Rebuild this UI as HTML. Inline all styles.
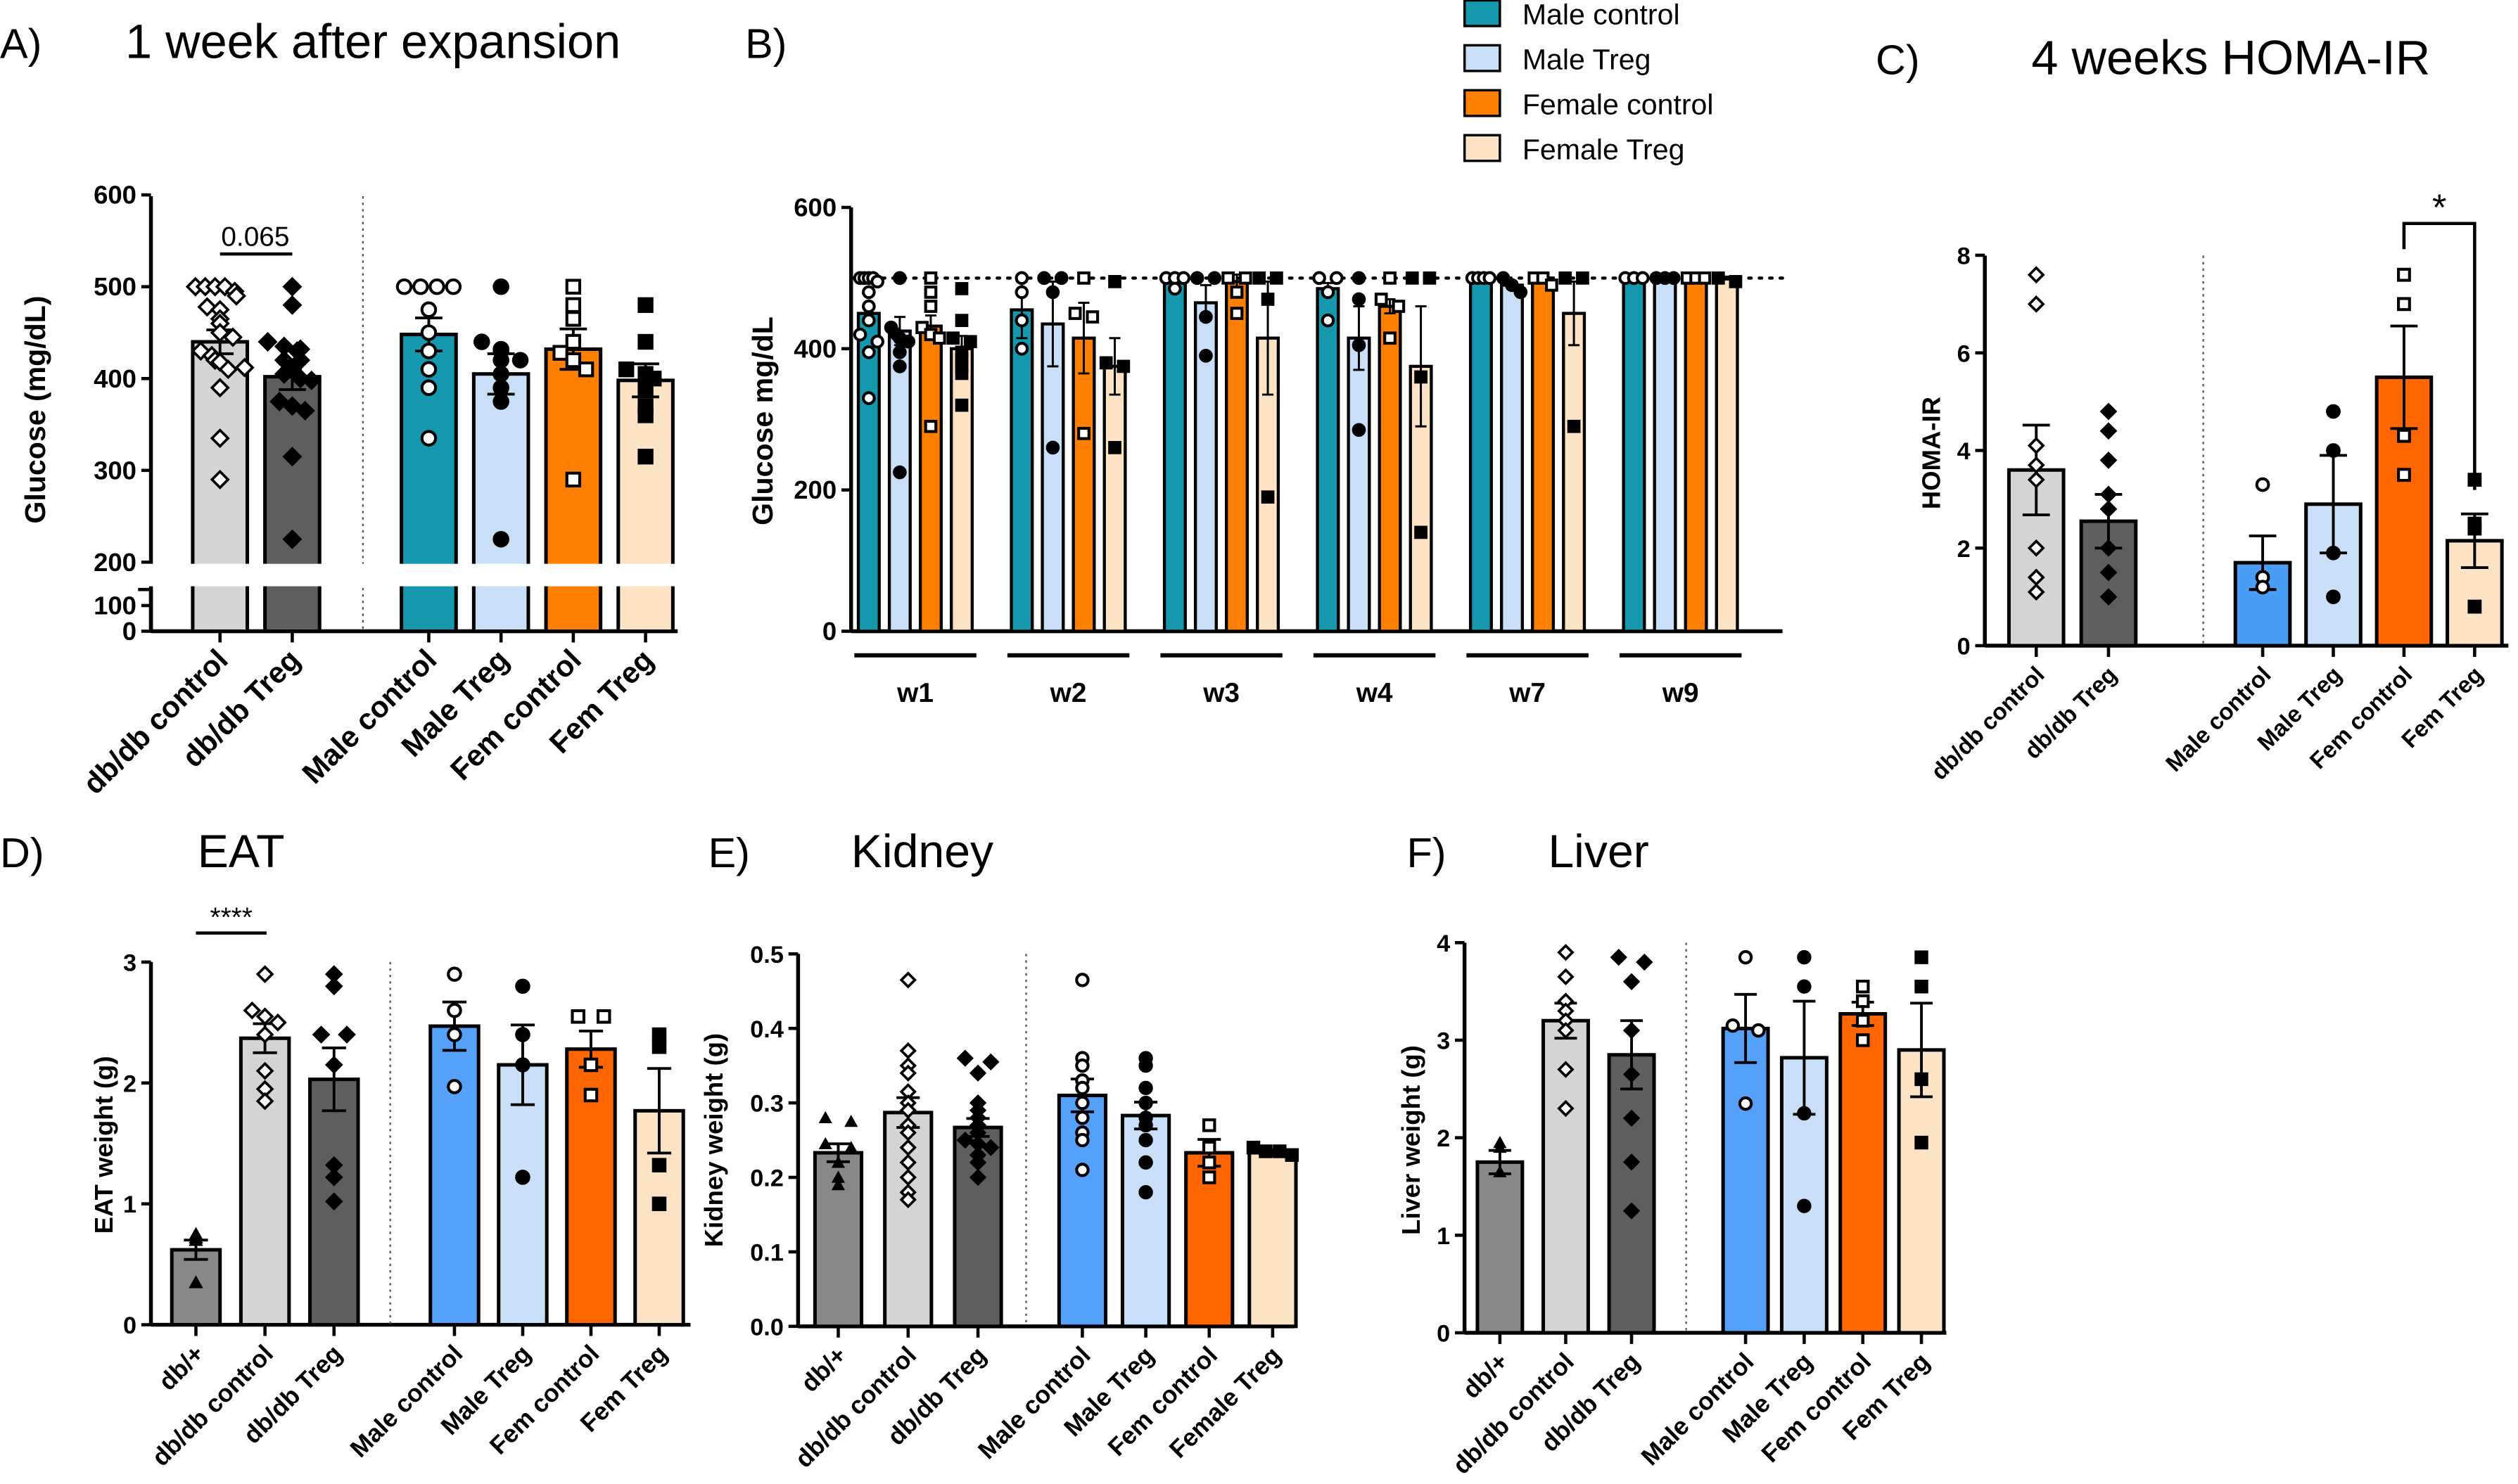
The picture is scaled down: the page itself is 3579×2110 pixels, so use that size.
<!DOCTYPE html>
<html><head><meta charset="utf-8"><style>
html,body{margin:0;padding:0;background:#fff}
svg{display:block}
text{font-family:"Liberation Sans",Arial,sans-serif}
</style></head><body>
<svg id="fig" xmlns="http://www.w3.org/2000/svg" width="3579" height="2110" viewBox="0 0 1568 924">
<rect width="1568" height="924" fill="#fff"/>
<g font-size="26" fill="#000">
<text x="0" y="36">A)</text>
<text x="78" y="36" font-size="30">1 week after expansion</text>
<text x="464" y="36">B)</text>
<text x="1168" y="46">C)</text>
<text x="1265" y="46" font-size="30">4 weeks HOMA-IR</text>
<text x="0" y="540">D)</text>
<text x="123" y="540" font-size="29">EAT</text>
<text x="441" y="540">E)</text>
<text x="530" y="540" font-size="29">Kidney</text>
<text x="876" y="540">F)</text>
<text x="964" y="540" font-size="29">Liver</text>
</g>
</svg>
<script>
// ---------- Panel A data ----------
const aCats=["db/db control","db/db Treg","Male control","Male  Treg","Fem  control","Fem  Treg"];
const aVals=[440,402,448,405,432,398];
const aErrs=[13,14,18,22,22,18];
const aPts=[[500,500,500,500,495,490,478,475,465,460,450,445,430,425,420,418,410,412,390,335,290],
[500,480,440,435,432,430,420,420,410,405,400,398,375,370,365,315,225],
[500,500,500,500,475,450,430,410,390,335],[500,440,432,430,420,420,405,390,375,225],
[500,480,465,440,428,420,410,290],[480,440,410,405,400,390,370,360,315]];
// ---------- Panel B data ----------
const bWeeks=["w1","w2","w3","w4","w7","w9"];
const bSeries=["Male control","Male Treg","Female control","Female Treg"];
const bVals=[[450,425,432,400],[455,435,415,375],[500,465,495,415],[485,415,460,375],[500,490,500,450],[500,500,500,500]];
const bErrs=[[12,20,15,18],[40,60,50,40],[0,25,10,80],[8,45,10,85],[0,5,0,45],[0,0,0,2]];
const bPts=[[[500,500,500,500,495,480,460,440,420,410,395,330],[500,430,420,415,410,395,375,225],[500,480,460,430,420,415,290],[485,440,415,410,395,385,375,365,320]],
[[500,480,440,400],[500,500,480,260],[500,450,445,280],[495,380,375,260]],
[[500,500,500,485],[500,500,445,390],[500,500,480,450],[500,500,470,190]],
[[500,500,480,440],[500,470,405,285],[500,470,460,415],[500,500,360,140]],
[[500,500,500,500],[500,490,480],[500,500,490],[500,500,290]],
[[500,500,500],[500,500,500],[500,500,500],[500,495]]];
// ---------- Panel C data ----------
const cCats=["db/db control","db/db Treg","Male control","Male Treg","Fem control","Fem Treg"];
const cVals=[3.6,2.55,1.7,2.9,5.5,2.15];
const cErrs=[0.92,0.55,0.55,1.0,1.05,0.55];
const cPts=[[7.6,7.0,4.1,3.7,3.4,2.0,1.4,1.1],[4.8,4.4,3.8,3.1,2.8,2.0,1.5,1.0],[3.3,1.4,1.2],[4.8,4.0,1.9,1.0],[7.6,7.0,4.3,3.5],[3.4,2.5,2.4,0.8]];
const cTicks=[0,2,4,6,8];
// ---------- Panel D data ----------
const dCats=["db/+","db/db control","db/db Treg","Male control","Male Treg","Fem control","Fem  Treg"];
const dVals=[0.62,2.37,2.03,2.47,2.15,2.28,1.77];
const dErrs=[0.08,0.12,0.26,0.2,0.33,0.15,0.35];
const dPts=[[0.75,0.72,0.7,0.35],[2.9,2.6,2.55,2.5,2.4,2.1,1.95,1.85],[2.9,2.8,2.4,2.4,2.15,1.32,1.22,1.02],[2.9,2.6,2.4,1.97],[2.8,2.4,2.15,1.22],[2.55,2.55,2.15,1.9],[2.4,2.3,1.32,1.0]];
const dTicks=[0,1,2,3];
// ---------- Panel E data ----------
const eCats=["db/+","db/db control","db/db Treg","Male control","Male Treg","Fem control","Female Treg"];
const eVals=[0.233,0.287,0.267,0.31,0.283,0.233,0.233];
const eErrs=[0.012,0.02,0.012,0.022,0.018,0.018,0.004];
const ePts=[[0.28,0.275,0.245,0.24,0.22,0.2,0.19],[0.465,0.37,0.35,0.34,0.315,0.3,0.29,0.27,0.26,0.24,0.22,0.2,0.18,0.17],[0.36,0.355,0.34,0.3,0.29,0.28,0.27,0.26,0.25,0.245,0.24,0.23,0.22,0.2],[0.465,0.36,0.35,0.33,0.32,0.3,0.28,0.26,0.25,0.21],[0.36,0.35,0.32,0.3,0.28,0.27,0.25,0.22,0.18],[0.27,0.24,0.22,0.2],[0.24,0.235,0.235,0.23]];
const eTicks=[0,0.1,0.2,0.3,0.4,0.5];
// ---------- Panel F data ----------
const fCats=["db/+","db/db control","db/db Treg","Male  control","Male Treg","Fem control","Fem Treg"];
const fVals=[1.75,3.2,2.85,3.12,2.82,3.27,2.9];
const fErrs=[0.12,0.18,0.35,0.35,0.58,0.12,0.48];
const fPts=[[1.95,1.9,1.65],[3.9,3.65,3.4,3.3,3.2,3.1,2.7,2.3],[3.85,3.8,3.6,3.1,2.65,2.2,1.75,1.25],[3.85,3.15,3.1,2.35],[3.85,3.55,2.25,1.3],[3.55,3.4,3.2,3.0],[3.85,3.55,2.6,1.95]];
const fTicks=[0,1,2,3,4];

const NS="http://www.w3.org/2000/svg";
const svg=document.getElementById('fig');
function el(tag,attrs,parent){const e=document.createElementNS(NS,tag);for(const k in attrs)e.setAttribute(k,attrs[k]);(parent||svg).appendChild(e);return e;}
function txt(x,y,s,attrs){const t=el('text',Object.assign({x:x,y:y},attrs||{}));t.textContent=s;return t;}

function marker(type,x,y,s,name){
  let e;const fill=type.endsWith('f')?'#000':'#fff';
  const k=type[0];
  if(k==='d') e=el('polygon',{points:`${x},${y-s} ${x+s},${y} ${x},${y+s} ${x-s},${y}`,fill:fill,stroke:'#000','stroke-width':1.6});
  else if(k==='c') e=el('circle',{cx:x,cy:y,r:s*0.85,fill:fill,stroke:'#000','stroke-width':1.8});
  else if(k==='s') e=el('rect',{x:x-s*0.8,y:y-s*0.8,width:s*1.6,height:s*1.6,fill:fill,stroke:'#000','stroke-width':1.8});
  else e=el('polygon',{points:`${x},${y-s} ${x+s},${y+s*0.8} ${x-s},${y+s*0.8}`,fill:'#000'});
  
  
  return e;
}

function spreadX(pts,j,cx,bw){
  let same=0,idx=0;
  for(let i=0;i<pts.length;i++){if(Math.abs(pts[i]-pts[j])<=(Math.abs(pts[j])*0.025+1e-9)){if(i<j)idx++;same++;}}
  if(same<=1)return cx;
  const w=Math.min(bw*0.9,same*8);
  return cx-w/2+idx*w/(same-1);
}

function barPanel(o){
  const y=o.y;
  el('line',{x1:o.ax,y1:o.yTop,x2:o.ax,y2:o.y0,stroke:'#000','stroke-width':2.4});
  el('line',{x1:o.ax,y1:o.y0,x2:o.axEnd,y2:o.y0,stroke:'#000','stroke-width':2.4});
  el('line',{x1:o.sep,y1:o.yTop,x2:o.sep,y2:o.y0,stroke:'#555','stroke-width':1,'stroke-dasharray':'1.5,2.5'});
  o.ticks.forEach(v=>{el('line',{x1:o.ax-6,y1:y(v),x2:o.ax,y2:y(v),stroke:'#000','stroke-width':2});
    const t=txt(o.ax-9,y(v)+5.5,o.fmt(v),{'font-size':o.tfs,'font-weight':'bold','text-anchor':'end'});
    
    });
  const yl=txt(0,0,o.ylabel,{'font-size':o.yfs,'font-weight':'bold','text-anchor':'middle',transform:`translate(${o.ylx},${o.yly}) rotate(-90)`});
  
  
  o.cats.forEach((c,i)=>{
    const cx=o.x(i);const vy=y(o.vals[i]);
    const b=el('rect',{x:cx-o.bw/2,y:vy,width:o.bw,height:o.y0-vy,fill:o.colors[i],stroke:'#000','stroke-width':2.2});
    
    
    el('line',{x1:cx,y1:o.y0,x2:cx,y2:o.y0+7,stroke:'#000','stroke-width':2});
    const t=txt(0,0,c,{'font-size':o.lfs,'font-weight':'bold','text-anchor':'end',transform:`translate(${cx+6},${o.y0+19}) rotate(-45)`});
    
    
  });
  if(o.brk)o.brk();
  o.cats.forEach((c,i)=>{
    const cx=o.x(i);
    const e1=y(o.vals[i]+o.errs[i]),e2=y(o.vals[i]-o.errs[i]);
    const eb=el('path',{d:`M${cx},${e1}V${e2}M${cx-o.bw*0.25},${e1}H${cx+o.bw*0.25}M${cx-o.bw*0.25},${e2}H${cx+o.bw*0.25}`,stroke:'#000','stroke-width':1.7,fill:'none'});
    
    
    o.pts[i].forEach((p,j)=>{marker(o.markers[i],spreadX(o.pts[i],j,cx,o.bw),y(p),o.ms,'data-point');});
  });
}

// Panel A (broken axis)
const aY=v=>v>=200?350-(v-200)*0.572:393-v*0.16;
barPanel({cats:aCats,vals:aVals,errs:aErrs,pts:aPts,y:aY,ax:94,axEnd:422,yTop:122,y0:393,sep:226,bw:34,
 x:i=>i<2?137+i*45:267+(i-2)*45,colors:['#d4d4d4','#5e5e5e','#1598ad','#c9dff7','#ff8000','#fde3c6'],
 markers:['do','df','co','cf','so','sf'],ticks:[0,100,200,300,400,500,600],fmt:v=>String(v),tfs:16,yfs:18,ylabel:'Glucose (mg/dL)',ylx:28,yly:255,lfs:18.5,ms:5,
 brk:()=>{el('rect',{x:96,y:351,width:330,height:14,fill:'#fff'});el('rect',{x:88,y:351,width:12,height:14,fill:'#fff'});
   el('line',{x1:86,y1:367,x2:94,y2:367,stroke:'#000','stroke-width':2});el('line',{x1:94,y1:367,x2:94,y2:393,stroke:'#000','stroke-width':2.4});}});
el('line',{x1:137,y1:158,x2:182,y2:158,stroke:'#000','stroke-width':2});
txt(159,153,'0.065',{'font-size':17,'text-anchor':'middle'});

// Panel B
const bY=v=>393-v*0.44;
const bCol=['#1598ad','#c9dff7','#ff8000','#fde3c6'];
const bMk=['co','cf','so','sf'];
el('line',{x1:530,y1:129,x2:530,y2:393,stroke:'#000','stroke-width':2.4});
el('line',{x1:530,y1:393,x2:1110,y2:393,stroke:'#000','stroke-width':2.4});
[0,200,400,600].forEach(v=>{el('line',{x1:524,y1:bY(v),x2:530,y2:bY(v),stroke:'#000','stroke-width':2});
 const t=txt(521,bY(v)+5.5,String(v),{'font-size':16,'font-weight':'bold','text-anchor':'end'});
 
 });
const by=txt(0,0,'Glucose mg/dL',{'font-size':18,'font-weight':'bold','text-anchor':'middle',transform:'translate(481,262) rotate(-90)'});


bWeeks.forEach((w,g)=>{
  const gc=570+g*95.3;
  bSeries.forEach((s,k)=>{
    const cx=gc-29+k*19.3;const vy=bY(bVals[g][k]);
    const b=el('rect',{x:cx-6.5,y:vy,width:13,height:393-vy,fill:bCol[k],stroke:'#000','stroke-width':1.9});
    
    
  });
  const u=el('line',{x1:gc-38,y1:408,x2:gc+38,y2:408,stroke:'#000','stroke-width':2.6});
  
  
  const t=txt(gc,437,w,{'font-size':17,'font-weight':'bold','text-anchor':'middle'});
  
  
});
el('line',{x1:530,y1:bY(500),x2:1110,y2:bY(500),stroke:'#000','stroke-width':2,'stroke-dasharray':'1.5,5','stroke-linecap':'round'});
bWeeks.forEach((w,g)=>{const gc=570+g*95.3;
  bSeries.forEach((s,k)=>{const cx=gc-29+k*19.3;const v=bVals[g][k],e=bErrs[g][k];
    if(e>0)el('path',{d:`M${cx},${bY(v+e)}V${bY(v-e)}M${cx-3.5},${bY(v+e)}H${cx+3.5}M${cx-3.5},${bY(v-e)}H${cx+3.5}`,stroke:'#000','stroke-width':1.3,fill:'none'});
    bPts[g][k].forEach((p,j)=>marker(bMk[k],spreadX(bPts[g][k],j,cx,12),bY(p),4,'data-point'));
  });});
bSeries.forEach((s,k)=>{const yy=k*28;
  const r=el('rect',{x:912,y:yy,width:22,height:16,fill:bCol[k],stroke:'#000','stroke-width':1.5});
  
  
  const t=txt(948,yy+15,s,{'font-size':18});
  
  });

// Panel C
const cY=v=>402-v*30.4;
barPanel({cats:cCats,vals:cVals,errs:cErrs,pts:cPts,y:cY,ax:1236,axEnd:1562,yTop:159,y0:402,sep:1372,bw:34,
 x:i=>i<2?1268+i*45:1409+(i-2)*44,colors:['#d4d4d4','#5e5e5e','#4a9cf5','#c9dff7','#ff6600','#fde3c6'],
 markers:['do','df','co','cf','so','sf'],ticks:cTicks,fmt:v=>String(v),tfs:15,yfs:16,ylabel:'HOMA-IR',ylx:1208,yly:282,lfs:14.5,ms:4.3});
el('path',{d:'M1497,155V139H1541V305',stroke:'#000','stroke-width':2,fill:'none'});
txt(1519,137,'*',{'font-size':23,'text-anchor':'middle'});

// Panel D
const dY=v=>825-v*75.3;
barPanel({cats:dCats,vals:dVals,errs:dErrs,pts:dPts,y:dY,ax:94,axEnd:430,yTop:599,y0:825,sep:243,bw:30,
 x:i=>i<3?122+i*43:283+(i-3)*42.5,colors:['#888','#d4d4d4','#5e5e5e','#55a0f8','#c9dff7','#ff6600','#fde3c6'],
 markers:['tf','do','df','co','cf','so','sf'],ticks:dTicks,fmt:v=>String(v),tfs:15,yfs:16,ylabel:'EAT weight (g)',ylx:70,yly:713,lfs:15.5,ms:4.5});
el('line',{x1:122,y1:581,x2:166,y2:581,stroke:'#000','stroke-width':2});
txt(144,577,'****',{'font-size':17,'text-anchor':'middle'});

// Panel E
const eY=v=>826-v*464;
barPanel({cats:eCats,vals:eVals,errs:eErrs,pts:ePts,y:eY,ax:497,axEnd:806,yTop:594,y0:826,sep:639,bw:29,
 x:i=>i<3?522+i*43.5:674+(i-3)*39.5,colors:['#888','#d4d4d4','#5e5e5e','#55a0f8','#c9dff7','#ff6600','#fde3c6'],
 markers:['tf','do','df','co','cf','so','sf'],ticks:eTicks,fmt:v=>v.toFixed(1),tfs:15,yfs:16,ylabel:'Kidney weight (g)',ylx:450,yly:710,lfs:15.5,ms:4.2});

// Panel F
const fY=v=>830-v*60.75;
barPanel({cats:fCats,vals:fVals,errs:fErrs,pts:fPts,y:fY,ax:912,axEnd:1212,yTop:587,y0:830,sep:1050,bw:28,
 x:i=>i<3?934+i*41:1087+(i-3)*36.5,colors:['#888','#d4d4d4','#5e5e5e','#55a0f8','#c9dff7','#ff6600','#fde3c6'],
 markers:['tf','do','df','co','cf','so','sf'],ticks:fTicks,fmt:v=>String(v),tfs:15,yfs:16,ylabel:'Liver weight (g)',ylx:884,yly:710,lfs:15.5,ms:4.2});
</script>
</body></html>
